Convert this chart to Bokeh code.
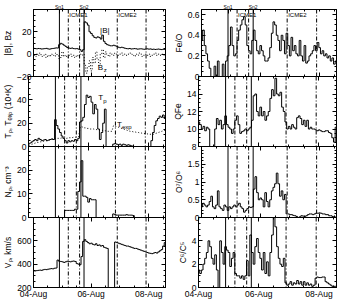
import numpy as np
from bokeh.plotting import figure
from bokeh.layouts import column, row
from bokeh.models import Span, Label, FixedTicker, LinearAxis, Range1d
from bokeh.embed import file_html
from bokeh.resources import INLINE

# ---------------- data ----------------
# time grid: hours since 04-Aug 00:00, 80-minute resolution
hours = 0.27 + np.arange(84) * (4.0 / 3.0)

tick_hours = [0, 48, 96]
tick_labels = ["04-Aug", "06-Aug", "08-Aug"]
minor_hours = list(range(0, 111, 12))

shock_hours = [21.6, 42.1]
shock_names = ["Sn1", "Sn2"]
icme_hours = [29.0, 38.4, 69.8, 93.8]
icme_names = ["ICME1", "ICME2"]

b_mag = [5.2, 5.0, 4.8, 5.1, 4.9, 4.6, 4.8, 5.0, 5.2, 4.7, 4.5, 4.9, 5.1, 5.3, 5.6,
         5.5, 8.5, 9.7, 9.0, 8.0, 7.0, 6.0, 5.5, 5.2, 5.5, 5.0, 4.8, 5.0, 4.5, 4.0, 2.5,
         4.0, 29, 28, 26, 20, 18.5, 16.5, 15, 14.5, 15.5,
         15, 13.5, 17, 11.5, 9.5, 8.5, 8, 7.5, 7.5, 8,
         7.5, 7, 6.2, 5.8, 6.2, 5.8, 5.3, 5.0, 4.8, 5.1,
         4.6, 4.8, 5.0, 4.8, 4.5, 4.7, 4.8, 4.6, 4.4, 4.6,
         4.8, 4.5, 4.7, 4.3, 4.5, 4.2, 4.4, 4.6, 4.3, 4.1,
         4.4, 4.2, 4.3]
b_z = [-1, -2, 0, -1, 1, -2, -1, 0, -3, -1, -2, 0, -1, -2, 1,
       -1, -4, -3, 2, -2, -1, -3, -1, 0, -2, -1, -3, -1, -2, 0, -1,
       0, -10, -17, -12, -6, -15, -3, -8, 2, -5,
       -10, 0, 4, -3, 2, 0, -2, 1, 0, -1,
       1, 0, -1, 0, 1, -1, 0, -1, 0, 1,
       0, -1, -2, 0, -1, 1, 0, -2, -1, 0,
       -1, 0, -2, -1, 0, 1, -1, 0, -1, 0,
       -1, 0, -1]
t_p = [2.5, 3, 4, 5, 6, 5, 7, 6, 5, 5.5, 6, 5, 5.5, 6, 6.5,
       6, 23, 18, 15, 12, 9, 7, 5, 3, 5, 4, 5, 4.5, 6, 5, 7,
       21, 22, 25, 36, 44, 42, 43, 38, 28, 36,
       32, 15, 6, 12, 20, 32, 0, 0, 0, 0,
       2, 2.5, 2, 1.5, 2, 1, 2, 1.5, 1, 1.5,
       1, 0.5, 0, 0, 0, 0, 0, 0, 0, 0,
       0, 0, 0, 5, 12, 18, 22, 24, 26, 25,
       27, 24, 22]
t_exp = [1, 1.5, 2, 2.5, 3, 3.5, 3.5, 4, 4, 4.5, 5, 5, 5.5, 6, 6,
         6.5, 7, 7, 7, 7, 7.5, 7.5, 7, 7, 7.5, 7.5, 7.5, 8, 8, 8, 8.5,
         17, 17, 16, 16, 15.5, 15.5, 15, 15, 15, 14.5,
         14.5, 14, 14, 14, 13.5, 13.5, 13, 13, 13, 13,
         18, 17.5, 17, 16.5, 16, 15.5, 15, 14.5, 14, 13.5,
         13, 13, 12.5, 12.5, 12, 12, 11.5, 11.5, 11, 11,
         11, 10.5, 10.5, 10.5, 10.5, 11, 11.5, 12, 12.5, 13,
         13.5, 14, 15]
n_p = [0] * 15 + \
      [0, 0, 0, 0, 0, 0, 0, 3, 3, 3, 3, 3, 3, 3.5, 3.5, 11,
       15, 24, 9, 9, 8.5, 6.5, 8, 7.5, 7.5, 7.5,
       0, 0, 0, 0, 0, 0, 0, 0, 0, 0,
       1.5, 1.2, 1, 1, 1, 1, 1, 1, 1.2, 1,
       1, 1, 0.8, 0, 0, 0, 0, 0, 0, 0] + [0] * 13
v_p = [342, 342, 345, 347, 349, 347, 352, 355, 353, 357, 359, 362, 360, 365, 367,
       435, 425, 423, 420, 415, 420, 425, 423, 420, 425, 427, 423, 405, 400, 395, 465,
       595, 610, 595, 585, 575, 580, 570, 565, 575, 560,
       565, 555, 560, 545, 540, 535, 200, 200, 200, 200,
       590, 585, 580, 575, 570, 565, 560, 555, 555, 550,
       545, 540, 535, 535, 530, 525, 520, 515, 510, 505,
       500, 495, 493, 490, 495, 500, 495, 505, 515, 525,
       555, 585, 605]
fe_o = [0.35, 0.45, 0.3, 0.22, 0.15, 0.08, 0, 0, 0.1, 0.0, 0.15, 0, 0, 0.12, 0,
        0.15, 0.2, 0.3, 0.48, 0.3, 0.2, 0.22, 0.35, 0.45, 0.5, 0.55, 0.58, 0.5, 0.3, 0.25, 0.22,
        0.35, 0.45, 0.35, 0.25, 0.22, 0.3, 0.25, 0.2, 0.15, 0.15,
        0.18, 0.28, 0.42, 0.53, 0.5, 0.4, 0.35, 0.25, 0.4, 0.35,
        0.22, 0.42, 0.3, 0.2, 0.38, 0.25, 0.3, 0.22, 0.2, 0.35,
        0.2, 0.15, 0.3, 0.13, 0.15, 0.2, 0.22, 0.25, 0.3, 0.25,
        0.33, 0.28, 0.22, 0.25, 0.2, 0.22, 0.18, 0.2, 0.15, 0.18,
        0.12, 0.15, 0.1]
q_fe = [10.8, 10.5, 10, 10.3, 9.8, 10.2, 10, 8, 8, 8, 10, 11.2, 10.5, 11, 10,
        10.5, 11.5, 10.5, 10.2, 10, 9.5, 10, 11, 11.5, 10.5, 9.5, 9.7, 9.8, 10, 9.8, 10,
        10.2, 11, 13.8, 14, 12, 11.5, 12.5, 11.5, 12, 11,
        11.5, 12, 13.5, 14.5, 13.8, 15.8, 14, 13.8, 14.2, 12.5,
        12, 10.8, 10, 10.3, 10, 10.5, 10.2, 10, 11.3, 11.5,
        11.2, 10.5, 11, 10.3, 11, 10, 10.2, 10, 10, 9.9,
        9.8, 9.9, 9.8, 9.7, 9.7, 9.8, 9.8, 9.6, 9.5, 9,
        8.5, 10.2, 9.3]
o7_o6 = [0.3, 0.4, 0.35, 0.3, 0.35, 0.45, 0.6, 0.3, 0.25, 0.35, 0.75, 0.3, 0.25, 0.2, 0.35,
         0.3, 0.2, 0.3, 0.25, 0.3, 0.35, 0.3, 0.35, 0.4, 0.3, 0.25, 0.15, 0.2, 0.25, 0.3, 0.28,
         0.3, 0.8, 1.15, 0.7, 0.5, 0.55, 0.5, 0.3, 0.7, 0.45,
         0.3, 0.5, 0.75, 0.85, 0.95, 1.25, 0.95, 0.6, 0.75, 0.5,
         0.65, 0.1, 0.1, 0.08, 0.08, 0.06, 0.05, 0.03, 0.0, 0.02,
         0.05, 0.04, 0.03, 0.05, 0.08, 0.1, 0.1, 0.08, 0.1, 0.12,
         0.12, 0.13, 0.12, 0.1, 0.1, 0.08, 0.08, 0.05, 0.05, 0.03,
         0.02, 0.01, 0.0]
c6_c5 = [1.5, 1.2, 1.5, 2.0, 2.5, 3.0, 4.0, 3.5, 2.5, 2.0, 2.8, 1.5, 0.0, 4.0, 3.0,
         2.0, 3.5, 3.2, 3.0, 1.8, 2.5, 3.0, 1.2, 1.0, 1.0, 0.8, 1.0, 0.7, 1.0, 2.3, 1.0,
         4.5, 3.0, 2.0, 3.5, 4.2, 3.0, 2.5, 1.5, 3.0, 1.2,
         2.2, 1.0, 3.0, 4.5, 6.0, 5.2, 3.5, 2.5, 2.0, 1.8,
         2.5, 0.4, 0.2, 0.3, 0.5, 0.2, 0.4, 0.3, 0.6, 0.3,
         0.5, 0.2, 0.5, 0.2, 0.4, 0.2, 0.3, 0.1, 0.2, 0.8,
         0.9, 0.85, 0.85, 0.9, 0.9, 0.5, 0.4, 0.3, 0.2, 0.1,
         0.1, 0.1, 0.1]

# y-axis tick values and their labels for each panel
b_ticks, b_tick_labels = [-20, 0, 20], ["\u221220", "0", "20"]
t_ticks, t_tick_labels = [0, 20, 40], ["0", "20", "40"]
n_ticks, n_tick_labels = [0, 10, 20], ["0", "10", "20"]
v_ticks, v_tick_labels = [200, 400, 600], ["200", "400", "600"]
feo_ticks, feo_tick_labels = [0, 0.2, 0.4, 0.6], ["0", "0.2", "0.4", "0.6"]
q_ticks, q_tick_labels = [8, 10, 12, 14], ["8", "10", "12", "14"]
o_ticks, o_tick_labels = [0, 0.5, 1, 1.5], ["0", "0.5", "1", "1.5"]
c_ticks, c_tick_labels = [0, 2, 4], ["0", "2", "4"]

FONT = "Liberation Sans"
FS = "8.5px"
FRAME_H = [71, 70, 71, 70]
OVER = 6          # rows overlap so edge tick labels are not cut


def style_axis(ax):
    ax.axis_line_color = "black"
    ax.major_tick_line_color = "black"
    ax.minor_tick_line_color = "black"
    ax.major_tick_in = 4
    ax.major_tick_out = 0
    ax.minor_tick_in = 2
    ax.minor_tick_out = 0
    ax.major_label_standoff = 2
    ax.major_label_text_font = FONT
    ax.major_label_text_font_size = FS
    ax.major_label_text_color = "black"
    ax.axis_label_text_font = FONT
    ax.axis_label_text_font_size = FS
    ax.axis_label_text_font_style = "normal"
    ax.axis_label_text_color = "black"
    ax.axis_label_standoff = 1


def blank_labels(ax, ticks, vertical):
    ax.major_label_overrides = {t: "" for t in ticks}
    ax.major_label_standoff = 0
    if vertical:
        ax.major_label_orientation = "vertical"


def make_panel(col, rw, yr, yticks, ylabs, yminor, ylabel):
    frame_h = FRAME_H[rw]
    top = 5 if rw == 0 else 0
    bottom = 15 if rw == 3 else OVER
    p = figure(width=170, height=frame_h + top + bottom,
               x_range=Range1d(0, 110), y_range=Range1d(*yr),
               output_backend="svg", toolbar_location=None,
               min_border_left=28, min_border_right=(5 if col == 0 else 4),
               min_border_top=top, min_border_bottom=bottom)
    p.xgrid.visible = False
    p.ygrid.visible = False
    p.outline_line_color = "black"
    p.background_fill_alpha = 0
    p.border_fill_alpha = 0

    xt = FixedTicker(ticks=tick_hours, minor_ticks=minor_hours)
    yt = FixedTicker(ticks=yticks, minor_ticks=yminor)

    xa = p.xaxis[0]
    xa.ticker = xt
    style_axis(xa)
    if rw == 3:
        xa.major_label_overrides = {t: s for t, s in zip(tick_hours, tick_labels)}
        xa.major_label_standoff = 1
    else:
        blank_labels(xa, tick_hours, True)

    ya = p.yaxis[0]
    ya.ticker = yt
    style_axis(ya)
    ya.major_label_overrides = {t: s for t, s in zip(yticks, ylabs)}
    ya.axis_label = ylabel

    if rw == 0:
        xa2 = LinearAxis(ticker=FixedTicker(ticks=shock_hours, minor_ticks=minor_hours))
        style_axis(xa2)
        xa2.major_label_overrides = {h: nm for h, nm in zip(shock_hours, shock_names)}
        xa2.major_label_text_font_size = "5px"
        xa2.major_label_standoff = 0
    else:
        xa2 = LinearAxis(ticker=xt)
        style_axis(xa2)
        blank_labels(xa2, tick_hours, True)
    p.add_layout(xa2, "above")

    ya2 = LinearAxis(ticker=yt)
    style_axis(ya2)
    blank_labels(ya2, yticks, False)
    p.add_layout(ya2, "right")

    for h in shock_hours:
        p.add_layout(Span(location=h, dimension="height", line_color="black", line_width=1))
    for h in icme_hours:
        p.add_layout(Span(location=h, dimension="height", line_color="black", line_width=1,
                          line_dash="4 2 1 2"))
    if rw == 0:
        for h, nm in zip(icme_hours[::2], icme_names):
            p.add_layout(Label(x=h, y=yr[1], text=nm, text_font=FONT, text_font_size="6px",
                               text_align="left", text_baseline="top", x_offset=1, y_offset=-2,
                               text_color="black"))
    return p


def lab(p, x, y, text, size="8px", xo=0, yo=0):
    p.add_layout(Label(x=x, y=y, text=text, text_font=FONT, text_font_size=size,
                       text_align="left", text_baseline="middle", x_offset=xo, y_offset=yo,
                       text_color="black"))


# ---------- left column ----------
l1 = make_panel(0, 0, (-20, 40), b_ticks, b_tick_labels, list(range(-20, 41, 5)), "|B|, Bz")
l1.step(hours, b_mag, mode="center", line_color="black", line_width=1)
l1.step(hours, b_z, mode="center", line_color="black", line_width=1, line_dash="1 2")
lab(l1, 55.5, 21.5, "|B|")
lab(l1, 53.5, -11.5, "B")
lab(l1, 53.5, -11.5, "z", size="6px", xo=6, yo=-3)

l2 = make_panel(0, 1, (0, 60), t_ticks, t_tick_labels, list(range(0, 61, 5)),
                "T\u209a, T\u2091\u2093\u209a (10\u2074K)")
l2.step(hours, t_p, mode="center", line_color="black", line_width=1)
l2.line(hours, t_exp, line_color="black", line_width=1, line_dash="1 2")
lab(l2, 56, 42, "T")
lab(l2, 56, 42, "p", size="6px", xo=5, yo=-3)
lab(l2, 71, 19, "T")
lab(l2, 71, 19, "exp", size="6px", xo=5, yo=-3)

l3 = make_panel(0, 2, (0, 30), n_ticks, n_tick_labels, list(range(0, 31, 2)),
                "N\u209a, cm\u207b\u00b3")
l3.step(hours, n_p, mode="center", line_color="black", line_width=1)

l4 = make_panel(0, 3, (200, 800), v_ticks, v_tick_labels, list(range(200, 801, 50)),
                "V\u209a, km/s")
l4.step(hours, v_p, mode="center", line_color="black", line_width=1)

# ---------- right column ----------
r1 = make_panel(1, 0, (0, 0.65), feo_ticks, feo_tick_labels,
                [round(0.05 * k, 2) for k in range(0, 14)], "Fe/O")
r1.step(hours, fe_o, mode="center", line_color="black", line_width=1)

r2 = make_panel(1, 1, (8, 16), q_ticks, q_tick_labels,
                [8 + 0.5 * k for k in range(0, 17)], "QFe")
r2.step(hours, q_fe, mode="center", line_color="black", line_width=1)

r3 = make_panel(1, 2, (0, 2), o_ticks, o_tick_labels,
                [round(0.1 * k, 1) for k in range(0, 21)], "O\u2077/O\u2076")
r3.step(hours, o7_o6, mode="center", line_color="black", line_width=1)

r4 = make_panel(1, 3, (0, 6), c_ticks, c_tick_labels,
                [0.5 * k for k in range(0, 13)], "C\u2076/C\u2075")
r4.step(hours, c6_c5, mode="center", line_color="black", line_width=1)

layout = column(
    row(l1, r1),
    row(l2, r2, margin=(-OVER, 0, 0, 0)),
    row(l3, r3, margin=(-OVER, 0, 0, 0)),
    row(l4, r4, margin=(-OVER, 0, 0, 0)),
)

open("out.html", "w").write(file_html(layout, INLINE))
